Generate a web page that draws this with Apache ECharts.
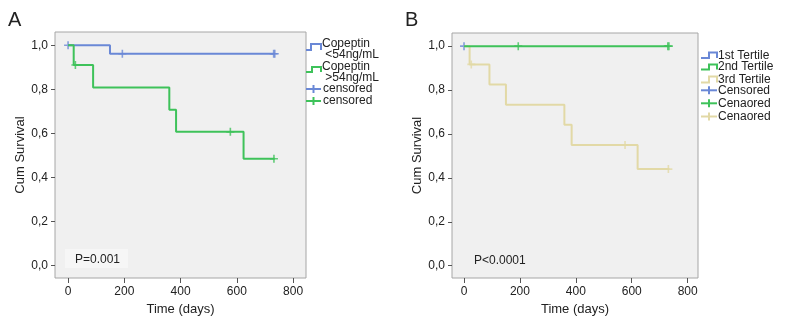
<!DOCTYPE html>
<html>
<head>
<meta charset="utf-8">
<script src="https://cdn.jsdelivr.net/npm/echarts@6/dist/echarts.min.js"></script>
<style>
  html, body { margin: 0; padding: 0; background: #fff; }
  #chart { width: 800px; height: 330px; }
</style>
</head>
<body>
<div id="chart"></div>
<script>
// ── Panel A: copeptin split at 54 ng/mL ──
const lowCopTime   = [0, 149, 735];
const lowCopSurv   = [1, 0.961, 0.961];
const lowCopCens   = [[0, 1], [193, 0.961], [731, 0.961], [735, 0.961]];
const highCopTime  = [0, 20, 89, 360, 384, 624, 735];
const highCopSurv  = [1, 0.91, 0.808, 0.707, 0.607, 0.485, 0.485];
const highCopCens  = [[26, 0.91], [577, 0.607], [732, 0.485]];

// ── Panel B: tertiles ──
const t1Time = [0, 0];
const t1Surv = [1, 1];
const t1Cens = [[0, 1]];
const t2Time = [0, 733];
const t2Surv = [1, 1];
const t2Cens = [[194, 1], [729, 1], [733, 1]];
const t3Time = [0, 20, 91, 150, 359, 385, 621, 735];
const t3Surv = [1, 0.917, 0.825, 0.733, 0.642, 0.55, 0.44, 0.44];
const t3Cens = [[26, 0.917], [576, 0.55], [731, 0.44]];

const xTicks = [0, 200, 400, 600, 800];
const yTicks = [0, 0.2, 0.4, 0.6, 0.8, 1.0];

const BLUE  = '#6a88d6';
const GREEN = '#3ec25a';
const TAN   = '#e2d9a6';
const FONT  = '"Liberation Sans", Arial, sans-serif';
const PLUS  = 'path://M0,3.2H8V4.8H0ZM3.2,0H4.8V8H3.2Z';

const zip = (xs, ys) => xs.map((x, i) => [x, ys[i]]);

function xAxisFor(gridIndex, min, max) {
  return {
    gridIndex, type: 'value', min, max,
    axisLine: { show: false, onZero: false },
    splitLine: { show: false },
    axisTick: { show: true, length: 5, customValues: xTicks, lineStyle: { color: '#555' } },
    axisLabel: { customValues: xTicks, margin: 8, fontSize: 12, color: '#222', fontFamily: FONT },
    name: 'Time (days)', nameLocation: 'middle', nameGap: 25,
    nameTextStyle: { fontSize: 13, color: '#222', fontFamily: FONT },
  };
}
function yAxisFor(gridIndex) {
  return {
    gridIndex, type: 'value', min: -0.056, max: 1.06,
    axisLine: { show: false, onZero: false },
    splitLine: { show: false },
    axisTick: { show: true, length: 4, customValues: yTicks, lineStyle: { color: '#555' } },
    axisLabel: {
      customValues: yTicks, margin: 7, fontSize: 12, color: '#222', fontFamily: FONT,
      formatter: v => v.toFixed(1).replace('.', ','),
    },
    name: 'Cum Survival', nameLocation: 'middle', nameGap: 28,
    nameTextStyle: { fontSize: 13, color: '#222', fontFamily: FONT },
  };
}
function curve(name, idx, data, color) {
  return {
    name, type: 'line', step: 'end', xAxisIndex: idx, yAxisIndex: idx,
    data, symbol: 'none', silent: true,
    lineStyle: { color, width: 2 },
  };
}
function censor(name, idx, data, color) {
  return {
    name, type: 'scatter', xAxisIndex: idx, yAxisIndex: idx,
    data, symbol: PLUS, symbolSize: 8, silent: true,
    itemStyle: { color },
  };
}

// legend pieces (drawn as graphics so layout follows the reference)
function stepIcon(x0, xm, x1, yLow, yHigh, color) {
  return { type: 'polyline', silent: true,
    shape: { points: [[x0, yLow], [xm, yLow], [xm, yHigh], [x1, yHigh], [x1, yLow]] },
    style: { stroke: color, lineWidth: 2, fill: null } };
}
function plusIcon(x0, x1, y, color) {
  const xm = (x0 + x1) / 2;
  return [
    { type: 'line', silent: true, shape: { x1: x0, y1: y, x2: x1, y2: y }, style: { stroke: color, lineWidth: 2 } },
    { type: 'line', silent: true, shape: { x1: xm, y1: y - 4, x2: xm, y2: y + 4 }, style: { stroke: color, lineWidth: 2 } },
  ];
}
function label(text, x, y, size = 12, weight = 'normal') {
  return { type: 'text', silent: true,
    style: { text, x, y, font: `${weight} ${size}px ${FONT}`, fill: '#222', verticalAlign: 'middle' } };
}

const chart = echarts.init(document.getElementById('chart'), null, { renderer: 'canvas' });
chart.setOption({
  animation: false,
  backgroundColor: '#fff',
  grid: [
    { left: 55, top: 32, width: 251, height: 246, show: true, backgroundColor: '#f0f0f0', borderColor: '#a6a6a6', borderWidth: 1 },
    { left: 452, top: 33, width: 246, height: 245, show: true, backgroundColor: '#f0f0f0', borderColor: '#a6a6a6', borderWidth: 1 },
  ],
  xAxis: [xAxisFor(0, -46.5, 846), xAxisFor(1, -43, 837)],
  yAxis: [yAxisFor(0), yAxisFor(1)],
  series: [
    curve('Copeptin <54ng/mL', 0, zip(lowCopTime, lowCopSurv), BLUE),
    curve('Copeptin >54ng/mL', 0, zip(highCopTime, highCopSurv), GREEN),
    censor('censored A1', 0, lowCopCens, BLUE),
    censor('censored A2', 0, highCopCens, GREEN),

    curve('1st Tertile', 1, zip(t1Time, t1Surv), BLUE),
    curve('3rd Tertile', 1, zip(t3Time, t3Surv), TAN),
    curve('2nd Tertile', 1, zip(t2Time, t2Surv), GREEN),
    censor('Cenaored B3', 1, t3Cens, TAN),
    censor('Cenaored B2', 1, t2Cens, GREEN),
    censor('Censored B1', 1, t1Cens, BLUE),
  ],
  graphic: [
    // panel letters
    label('A', 8, 20, 20),
    label('B', 405, 20, 20),

    // p-values
    { type: 'rect', silent: true, shape: { x: 65, y: 249, width: 63, height: 19 }, style: { fill: '#f6f6f6' } },
    label('P=0.001', 75, 259.5),
    label('P<0.0001', 474, 260.5),

    // legend A
    stepIcon(306, 311, 321, 50, 44, BLUE),
    label('Copeptin', 322, 43.5),
    label(' <54ng/mL', 322, 55),
    stepIcon(306, 312, 321, 72, 67, GREEN),
    label('Copeptin', 322, 66.5),
    label(' >54ng/mL', 322, 77.5),
    ...plusIcon(306, 321, 89, BLUE),
    label('censored', 323, 89),
    ...plusIcon(306, 321, 101, GREEN),
    label('censored', 323, 101),

    // legend B
    stepIcon(701, 709, 717, 58, 52.5, BLUE),
    label('1st Tertile', 718, 55.7),
    stepIcon(701, 709, 717, 69.5, 64.5, GREEN),
    label('2nd Tertile', 718, 66.3),
    stepIcon(701, 709, 717, 82.5, 76.5, TAN),
    label('3rd Tertile', 718, 79.7),
    ...plusIcon(701, 717, 90.3, BLUE),
    label('Censored', 718, 90.3),
    ...plusIcon(701, 717, 103.3, GREEN),
    label('Cenaored', 718, 103.3),
    ...plusIcon(701, 717, 116.5, TAN),
    label('Cenaored', 718, 116.7),
  ],
});
</script>
</body>
</html>
